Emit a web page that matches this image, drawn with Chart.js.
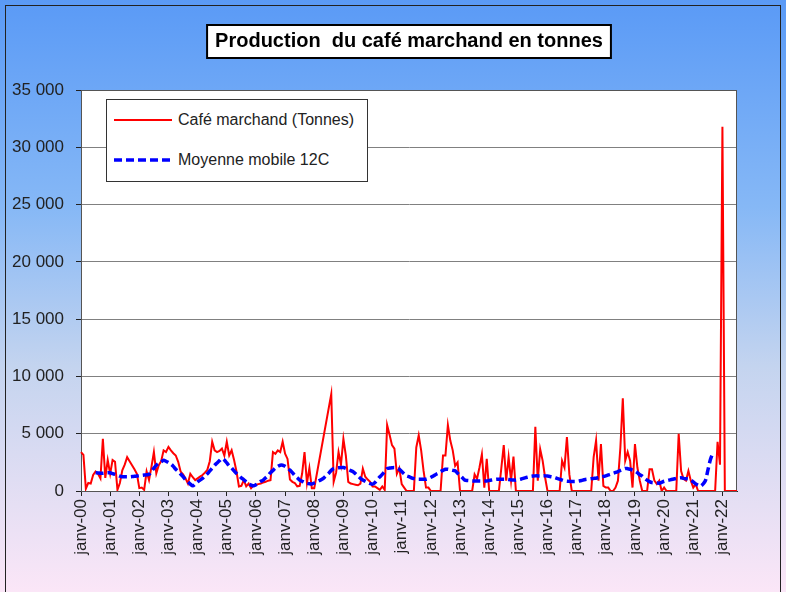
<!DOCTYPE html>
<html>
<head>
<meta charset="utf-8">
<script src="https://cdn.jsdelivr.net/npm/chart.js@4.4.0/dist/chart.umd.min.js"></script>
<style>
  html, body { margin: 0; padding: 0; }
  #wrap { position: relative; width: 786px; height: 592px; }
  #legend {
    position: absolute; left: 106px; top: 99px; width: 262px; height: 83px;
    box-sizing: border-box; background: #fff; border: 1px solid #333;
    font: 16px "Liberation Sans", Arial, sans-serif; color: #222;
  }
  #legend svg { position: absolute; left: 0; top: 0; }
  #legend span { position: absolute; left: 71px; line-height: 18px; white-space: nowrap; }
</style>
</head>
<body>
<div id="wrap">
  <canvas id="myChart" width="786" height="592"></canvas>
  <div id="legend">
    <svg width="260" height="81">
      <line x1="7" y1="20" x2="65" y2="20" stroke="#ff0000" stroke-width="2"/>
      <line x1="7" y1="60" x2="65" y2="60" stroke="#0000ff" stroke-width="3.5" stroke-dasharray="8 4"/>
    </svg>
    <span style="top:11px">Café marchand (Tonnes)</span>
    <span style="top:51px">Moyenne mobile 12C</span>
  </div>
</div>
<script>
var months = ['janv', 'févr', 'mars', 'avr', 'mai', 'juin', 'juil', 'août', 'sept', 'oct', 'nov', 'déc'];
var years = ['00', '01', '02', '03', '04', '05', '06', '07', '08', '09', '10',
             '11', '12', '13', '14', '15', '16', '17', '18', '19', '20', '21', '22'];

// monthly production, tonnes (janv-00 .. juil-22), null = no data
var production = [
  3400, 3150, 200, 700, 650, 1400, 1700, 1500, 1100, 4550, 1150, 2700,      // 2000
  1500, 2700, 2550, 100, 700, 1800, 2300, 2950, 2600, 2250, 1900, 1500,     // 2001
  250, 300, 100, 1700, 950, 2100, 3400, 1550, 2250, 2600, 3550, 3400,       // 2002
  3850, 3550, 3300, 3100, 2550, 1700, 1450, 1100, 650, 1500, 1200, 950,     // 2003
  1100, 1250, 1400, 1600, 1850, 2600, 4300, 3550, 3400, 3500, 3700, 3100,   // 2004
  4300, 3100, 3550, 2700, 1700, 400, 450, 950, 400, 650, 250, 500,          // 2005
  550, 600, 650, 750, 800, 900, 950, 3400, 3250, 3550, 3400, 4300,          // 2006
  3250, 2800, 1000, 800, 700, 400, 450, 1500, 3400, 700, 2000, 250,         // 2007
  250, null, null, null, null, null, null, 8450, 800, 1600, 3400, 2300,     // 2008
  4550, 3100, 800, 650, 600, 550, 500, 650, 1950, 1250, 1000, 800,          // 2009
  400, 400, 250, 100, 400, 100, 5750, 4900, 4000, 3700, 1500, 2000,         // 2010
  600, 300, 0, 0, 0, 0, 3800, 4850, 3550, 1750, 300, 300,                   // 2011
  0, 0, 0, 0, 0, 3100, 3100, 5750, 4400, 3550, 2200, 2500,                  // 2012
  0, 0, 0, 0, 0, 0, 1450, 1050, 2050, 3200, 300, 2800,                      // 2013
  0, 0, 0, 0, 0, 2000, 4000, 900, 2950, 900, 3000, 0,                       // 2014
  0, 0, 0, 0, 0, 0, 0, 5600, 900, 3650, 2650, 1200,                         // 2015
  0, 0, 0, 0, 0, 0, 2650, 2050, 4700, 1450, 0, 0,                           // 2016
  0, 0, 0, 0, 0, 0, 0, 2950, 4400, 900, 4100, 450,                          // 2017
  300, 300, 0, 0, 300, 900, 3800, 8100, 2650, 3400, 2650, 300,              // 2018
  4100, 2050, 900, 0, 0, 0, 1900, 1900, 900, 600, 900, 0,                   // 2019
  300, 0, 0, 0, 0, 0, 5000, 1750, 1050, 900, 1750, 900,                     // 2020
  300, 600, 0, 0, 0, 0, 0, 0, 0, 0, 4300, 2300,                             // 2021
  31800, 0, 0, 0, 0, 0, 0                                                   // 2022
];

// 12-month centred moving average
var movingAverage = [
  null, null, null, null, null, null, 1600, 1580, 1550, 1550, 1570, 1590,
  1590, 1520, 1450, 1380, 1300, 1250, 1240, 1240, 1240, 1260, 1280, 1300,
  1330, 1360, 1390, 1420, 1450, 1700, 2000, 2250, 2400, 2550, 2680, 2600,
  2480, 2350, 2150, 1900, 1700, 1480, 1250, 1000, 800, 600, 450, 600,
  800, 950, 1100, 1300, 1500, 1750, 2000, 2250, 2450, 2650, 2830, 2700,
  2450, 2200, 2000, 1750, 1530, 1350, 1150, 980, 800, 650, 520, 450,
  550, 700, 850, 950, 1150, 1350, 1600, 1800, 2000, 2150, 2250, 2250,
  2150, 2000, 1820, 1600, 1350, 1150, 950, 850, 750, 680, 630, 610,
  700, 800, 900, 1000, 1150, 1350, 1550, 1800, 1960, 2000, 2030, 2050,
  2050, 1980, 1880, 1780, 1680, 1500, 1300, 1100, 950, 850, 750, 650,
  600, 750, 1000, 1240, 1450, 1700, 1950, 2000, 2030, 2050, 2000, 1900,
  1700, 1500, 1320, 1250, 1150, 1080, 1030, 1030, 1030, 1030, 1030, 1100,
  1200, 1300, 1450, 1550, 1700, 1800, 1900, 1900, 1850, 1800, 1760, 1550,
  1350, 1150, 950, 920, 900, 880, 880, 880, 880, 880, 880, 880,
  920, 960, 1000, 1030, 1030, 1030, 1030, 1030, 1000, 980, 960, 940,
  980, 1030, 1100, 1170, 1220, 1270, 1300, 1320, 1320, 1320, 1320, 1320,
  1300, 1270, 1230, 1180, 1100, 1030, 950, 880, 860, 840, 830, 820,
  830, 870, 920, 980, 1030, 1050, 1080, 1100, 1120, 1170, 1220, 1270,
  1320, 1400, 1470, 1550, 1620, 1700, 1800, 1880, 1970, 1950, 1900, 1830,
  1750, 1600, 1420, 1300, 1100, 950, 820, 740, 720, 700, 680, 760,
  850, 900, 950, 1000, 1050, 1100, 1130, 1150, 1100, 1070, 1050, 950,
  800, 620, 500, 420, 600, 900, 1800, 2700, 3300, null, null, null,
  null, null, null, null, null, null, null
];

var labels = [];
years.forEach(function (y) {
  months.forEach(function (m) { labels.push(m + '-' + y); });
});
labels = labels.slice(0, production.length);

var fontFamily = '"Liberation Sans", Arial, sans-serif';
var titleFont = { family: fontFamily, size: 20, weight: 'bold' };

// gradient page, white plot area, framed title
var backdrop = {
  id: 'backdrop',
  beforeDraw: function (chart) {
    var ctx = chart.ctx, a = chart.chartArea, w = chart.width, h = chart.height;
    ctx.save();
    var g = ctx.createLinearGradient(0, 0, 0, h);
    g.addColorStop(0, '#5a9af6');
    g.addColorStop(0.35, '#86b8f6');
    g.addColorStop(0.62, '#c4d4ef');
    g.addColorStop(1, '#fbe6f7');
    ctx.fillStyle = g;
    ctx.fillRect(0, 0, w, h);
    ctx.strokeStyle = '#222';
    ctx.lineWidth = 1;
    ctx.strokeRect(5.5, 5.5, 775, h + 10);
    ctx.fillStyle = '#fff';
    ctx.fillRect(a.left, a.top, a.right - a.left, a.bottom - a.top);

    var t = chart.titleBlock;
    ctx.font = 'bold ' + titleFont.size + 'px ' + fontFamily;
    var tw = ctx.measureText(chart.options.plugins.title.text).width;
    var cx = (t.left + t.right) / 2;
    var cy = 41;
    ctx.fillStyle = '#fff';
    ctx.fillRect(cx - tw / 2 - 8, cy - 16, tw + 16, 33);
    ctx.strokeStyle = '#000';
    ctx.lineWidth = 2;
    ctx.strokeRect(cx - tw / 2 - 8, cy - 16, tw + 16, 33);
    ctx.restore();
  },
  beforeDatasetsDraw: function (chart) {
    var ctx = chart.ctx, a = chart.chartArea;
    ctx.save();
    ctx.strokeStyle = '#555';
    ctx.lineWidth = 1;
    ctx.strokeRect(a.left + 0.5, a.top + 0.5, a.right - a.left - 1, a.bottom - a.top);
    ctx.restore();
  }
};

var ctx = document.getElementById('myChart').getContext('2d');
var chart = new Chart(ctx, {
  type: 'line',
  data: {
    labels: labels,
    datasets: [{
      label: 'Café marchand (Tonnes)',
      data: production,
      borderColor: '#ff0000',
      borderWidth: 2,
      pointRadius: 0,
      tension: 0,
      spanGaps: true,
      order: 1
    },
    {
      label: 'Moyenne mobile 12C',
      data: movingAverage,
      borderColor: '#0000ff',
      borderWidth: 3.5,
      borderDash: [8, 4],
      pointRadius: 0,
      tension: 0.3,
      order: 0
    }]
  },
  options: {
    responsive: false,
    animation: false,
    layout: { padding: { left: 0, right: 49, top: 0, bottom: 0 } },
    plugins: {
      legend: { display: false },
      tooltip: { enabled: false },
      title: {
        display: true,
        fullSize: false,
        text: 'Production  du café marchand en tonnes',
        color: '#000',
        font: titleFont,
        padding: { top: 29, bottom: 37 }
      }
    },
    scales: {
      x: {
        grid: { drawOnChartArea: false, tickLength: 5, tickColor: '#222' },
        border: { color: '#222' },
        ticks: {
          autoSkip: false,
          minRotation: 90,
          maxRotation: 90,
          padding: 3,
          color: '#222',
          font: { family: fontFamily, size: 17 },
          callback: function (v, i) { return i % 12 === 0 ? this.getLabelForValue(v) : null; }
        },
        afterFit: function (s) { s.height = 101; }
      },
      y: {
        min: 0,
        max: 35000,
        grid: { color: '#808080', tickLength: 5, tickColor: '#222' },
        border: { color: '#222' },
        ticks: {
          stepSize: 5000,
          padding: 12,
          color: '#222',
          font: { family: fontFamily, size: 17 },
          callback: function (v) { return String(v).replace(/\B(?=(\d{3})+(?!\d))/g, ' '); }
        },
        afterFit: function (s) { s.width = 81; }
      }
    }
  },
  plugins: [backdrop]
});
</script>
</body>
</html>
